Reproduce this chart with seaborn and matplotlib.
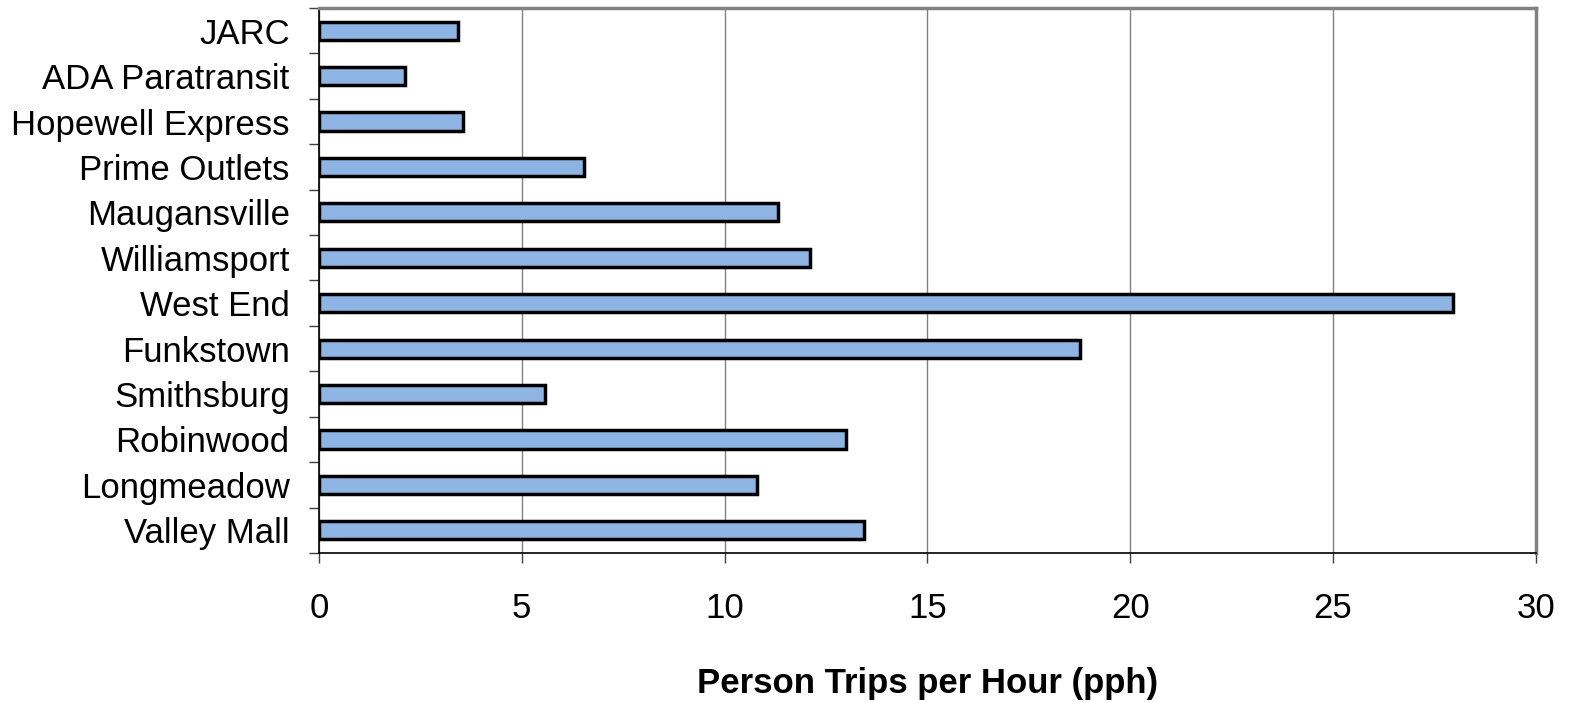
import matplotlib
matplotlib.use("Agg")
import matplotlib.pyplot as plt
import seaborn as sns
import numpy as np
import pandas as pd
from matplotlib.ticker import FixedLocator

sns.set_theme(style="white")
plt.rcParams['font.family'] = ['Liberation Sans', 'DejaVu Sans']
plt.rcParams['text.color'] = 'black'
plt.rcParams['axes.labelcolor'] = 'black'
plt.rcParams['xtick.color'] = 'black'
plt.rcParams['ytick.color'] = 'black'

# Routes listed top to bottom
routes = ['JARC', 'ADA Paratransit', 'Hopewell Express', 'Prime Outlets',
          'Maugansville', 'Williamsport', 'West End', 'Funkstown',
          'Smithsburg', 'Robinwood', 'Longmeadow', 'Valley Mall']
pph = [3.43, 2.12, 3.55, 6.53, 11.31, 12.10, 27.95, 18.76, 5.57, 12.99, 10.80, 13.43]
xticks = [0, 5, 10, 15, 20, 25, 30]

df = pd.DataFrame({'route': routes, 'pph': pph})

fig = plt.figure(figsize=(15.71, 7.03), dpi=100)
ax = fig.add_axes([0.203, 0.2134, 0.7747, 0.7752])

sns.barplot(data=df, x='pph', y='route', order=routes, color='#8EB4E3',
            saturation=1, edgecolor='black', linewidth=2.5, width=0.4, ax=ax)

ax.set_xlim(0, 30)
ax.set_ylim(len(routes) - 0.5, -0.5)
ax.set_xticks(xticks)
ax.set_xticklabels([str(t) for t in xticks], fontsize=25)
ax.xaxis.grid(True, color='#808080', linewidth=1)
ax.set_axisbelow(True)

# ticks between categories on the y axis
ax.yaxis.set_minor_locator(FixedLocator(np.arange(-0.5, len(routes), 1)))
ax.tick_params(axis='y', which='major', length=0, labelsize=25, pad=21)
ax.tick_params(axis='y', which='minor', length=7, width=1, color='#404040', left=True)
ax.tick_params(axis='x', which='major', length=7, width=1, color='#404040',
               bottom=True, labelsize=25, pad=21)

for side in ['top', 'right']:
    ax.spines[side].set_color('#808080')
    ax.spines[side].set_linewidth(2.5)
for side in ['left', 'bottom']:
    ax.spines[side].set_color('black')
    ax.spines[side].set_linewidth(1.2)

ax.set_ylabel('')
ax.set_xlabel('Person Trips per Hour (pph)', fontsize=25, fontweight='bold',
              labelpad=30, color='black')

fig.savefig('out.png', dpi=100)
